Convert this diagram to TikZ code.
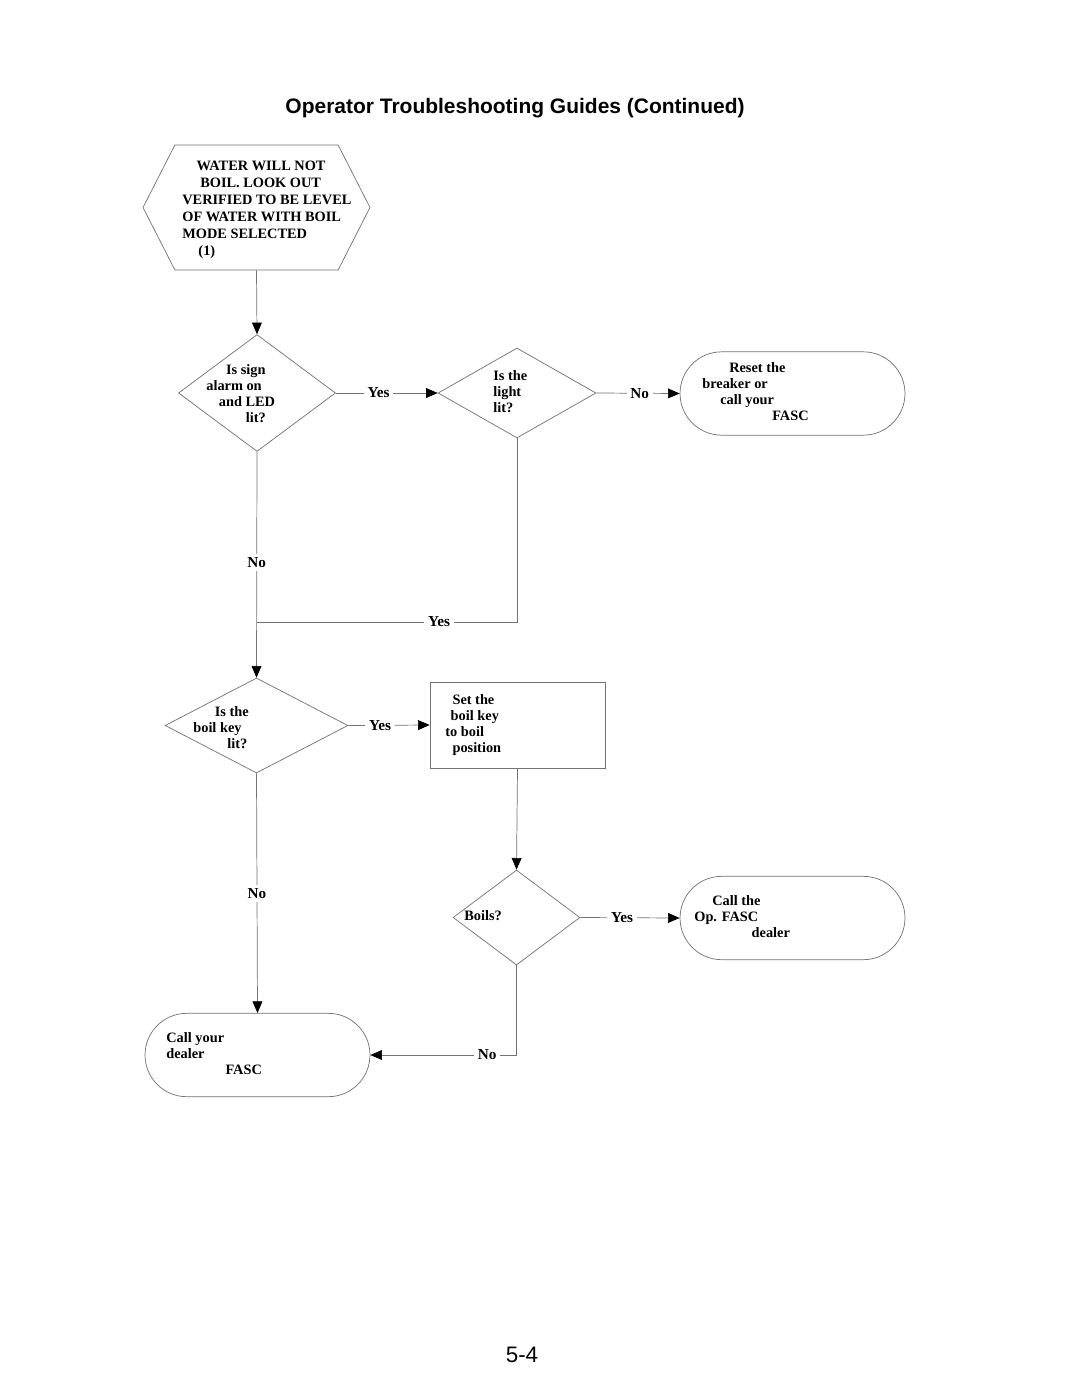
\documentclass[tikz,border=0pt]{standalone}
\usepackage{fontspec}
\setmainfont{Liberation Serif}
\newfontfamily\helv{Liberation Sans}
\usetikzlibrary{arrows.meta}
\usetikzlibrary{shapes.geometric,shapes.misc,shapes.symbols}
\tikzset{box/.style={draw=black!55, thin, inner sep=0pt},
dec/.style={box, diamond},
term/.style={box, rounded rectangle, minimum width=125.5pt, minimum height=46.5pt},
txt/.style={font=\fontsize{8}{9}\selectfont\bfseries, align=left, anchor=north west, inner sep=0pt},
lbl/.style={font=\fontsize{8.5}{9}\selectfont\bfseries, fill=white, inner sep=2pt},
line/.style={draw=black!55, thin},
flow/.style={line, -{Triangle[length=6.5pt,width=5.5pt,black]}}}

\begin{document}
\begin{tikzpicture} [x=0.0196cm,y=-0.0196cm]
\useasboundingbox [fill=white] (0,0) rectangle (1080,1397);
\node [font=\helv\bfseries\fontsize{11.7}{14}\selectfont] (title) at (515,108) {Operator Troubleshooting Guides (Continued)};
\node [box, signal, signal to=west and east, signal pointer angle=126, minimum width=126.6pt, minimum height=69.7pt] (start) at (256.5,207.5) {};
\node [txt, font=\fontsize{8}{9.4}\selectfont\bfseries] (startt) at (182,161) {\hspace*{8pt}WATER WILL NOT\\ \hspace*{10pt}BOIL. LOOK OUT\\ VERIFIED TO BE LEVEL\\ OF WATER WITH BOIL\\ MODE SELECTED\\ \hspace*{9pt}(1)};
\node [dec, minimum width=87.6pt, minimum height=65.2pt] (q1) at (257,393) {};
\node [txt] (q1t) at (206,364) {\hspace*{11pt}Is sign\\ alarm on\\ \hspace*{7pt}and LED\\ \hspace*{22pt}lit?};
\node [dec, minimum width=88.1pt, minimum height=50.2pt] (q2) at (517,393) {};
\node [txt] (q2t) at (493,370) {Is the\\ light\\ lit?};
\node [term] (t1) at (792.5,393.5) {};
\node [txt] (t1t) at (702,362) {\hspace*{15pt}Reset the\\ breaker or\\ \hspace*{10pt}call your\\ \hspace*{39pt}FASC};
\node [dec, minimum width=102pt, minimum height=53pt] (q3) at (256.5,725.5) {};
\node [txt] (q3t) at (193,706) {\hspace*{12pt}Is the\\ boil key\\ \hspace*{19pt}lit?};
\node [box, minimum width=97.6pt, minimum height=48pt] (fix) at (517.5,725) {};
\node [txt] (fixt) at (445,694) {\hspace*{4pt}Set the\\ \hspace*{3pt}boil key\\ to boil\\ \hspace*{4pt}position};
\node [dec, minimum width=70.8pt, minimum height=53pt] (q4) at (516.5,917.5) {};
\node [txt, anchor=west] (q4t) at (464,916) {Boils?};
\node [term] (t2) at (792.5,918) {};
\node [txt] (t2t) at (694,895) {\hspace*{10pt}Call the\\ Op. FASC\\ \hspace*{32pt}dealer};
\node [term] (t3) at (257.5,1055) {};
\node [txt] (t3t) at (166,1032) {Call your\\ dealer\\ \hspace*{33pt}FASC};
\coordinate (jn) at (257,622);
\draw [flow] (start.south) -- (q1.north);
\draw [flow] (q1.east) -- node [lbl, pos=.42] {Yes} (q2.west);
\draw [flow] (q2.east) -- node [lbl, pos=.52] {No} (t1.west);
\draw [flow] (q1.south) -- node [lbl, pos=.49] {No} (q3.north);
\draw [line] (q2.south) |- node [lbl, pos=.65] {Yes} (jn);
\draw [flow] (q3.east) -- node [lbl, pos=.39] {Yes} (fix.west);
\draw [flow] (fix.south) -- (q4.north);
\draw [flow] (q4.east) -- node [lbl, pos=.42] {Yes} (t2.west);
\draw [flow] (q3.south) -- node [lbl, pos=.5] {No} (t3.north);
\draw [flow] (q4.south) |- node [lbl, pos=.6] {No} (t3.east);
\node [font=\helv\fontsize{12.5}{14}\selectfont] (page) at (522,1355) {5-4};
\end{tikzpicture}
\end{document}
